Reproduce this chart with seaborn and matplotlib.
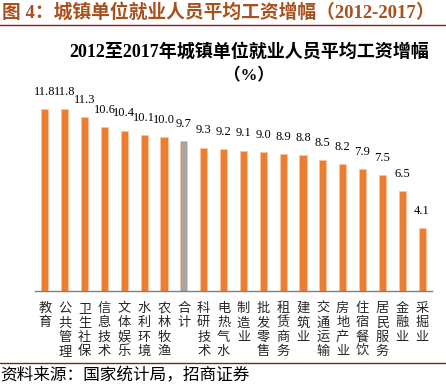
import matplotlib
matplotlib.use("Agg")
import matplotlib.pyplot as plt
import seaborn as sns
import pandas as pd

# Data
industries = ["教育", "公共管理", "卫生社保", "信息技术", "文体娱乐", "水利环境", "农林牧渔",
              "合计", "科研技术", "电热气水", "制造业", "批发零售", "租赁商务", "建筑业",
              "交通运输", "房地产业", "住宿餐饮", "居民服务", "金融业", "采掘业"]
growth = [11.8, 11.8, 11.3, 10.6, 10.4, 10.1, 10.0, 9.7, 9.3, 9.2,
          9.1, 9.0, 8.9, 8.8, 8.5, 8.2, 7.9, 7.5, 6.5, 4.1]

sns.set_theme(style="white")
plt.rcParams['font.family'] = ['Liberation Serif', 'Noto Sans CJK SC', 'DejaVu Sans']

df = pd.DataFrame({"industry": industries, "growth": growth})
colors = {k: ("#A5A5A5" if k == "合计" else "#ED7D31") for k in industries}

fig = plt.figure(figsize=(4.46, 3.85), dpi=100)
ax = fig.add_axes([35 / 446, 1 - 291 / 385, 397 / 446, 216 / 385])

sns.barplot(data=df, x="industry", y="growth", hue="industry", palette=colors,
            width=0.36, saturation=1, legend=False, ax=ax,
            edgecolor="#F8C6A0", linewidth=0.6)

ax.set_ylim(0, 14)
ax.set_xlim(-0.5, len(industries) - 0.5)
ax.set_xlabel("")
ax.set_ylabel("")
ax.set_yticks([])
for side in ["top", "left", "right"]:
    ax.spines[side].set_visible(False)
ax.spines["bottom"].set_color("#7F7F7F")
ax.spines["bottom"].set_linewidth(1.0)

# value labels
for p, v in zip(ax.patches, growth):
    ax.annotate(f"{v:.1f}", (p.get_x() + p.get_width() / 2, v), xytext=(0, 8),
                textcoords="offset points", ha="center", va="bottom",
                fontsize=9, color="black")

# vertical stacked category labels
ax.set_xticks(range(len(industries)))
ax.set_xticklabels(["\n".join(s) for s in industries], fontsize=9.5,
                   family=['Noto Sans CJK SC'], linespacing=1.12, va="top")
ax.tick_params(axis="x", length=0, pad=8)

# headline and chart title
fig.text(0.005, 1 - 12 / 385, "图 4：城镇单位就业人员平均工资增幅（2012-2017）",
         fontsize=13.5, fontweight="bold", color="#A8501E", va="center", ha="left")
fig.add_artist(plt.Line2D([0, 1], [1 - 25 / 385, 1 - 25 / 385], color="#8B1A1A", lw=1.0))
fig.text(249 / 446, 1 - 52 / 385, "2012至2017年城镇单位就业人员平均工资增幅",
         fontsize=13, fontweight="bold", color="black", ha="center", va="center")
fig.text(249 / 446, 1 - 76 / 385, "（%）",
         fontsize=12, fontweight="bold", color="black", ha="center", va="center")

fig.add_artist(plt.Line2D([0, 1], [1 - 363 / 385, 1 - 363 / 385], color="#8B1A1A", lw=1.0))
fig.text(0.0, 1 - 376 / 385, "资料来源：国家统计局，招商证券",
         fontsize=12, color="black", ha="left", va="center")

plt.savefig("out.png", dpi=100)
